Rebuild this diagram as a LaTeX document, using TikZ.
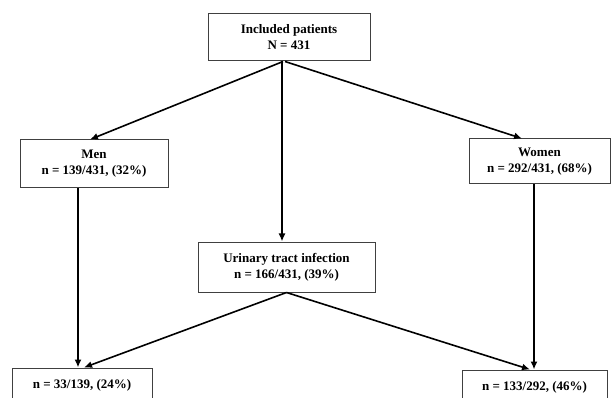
\documentclass[tikz,border=0pt]{standalone}
\usepackage{fontspec}
\setmainfont{Liberation Serif}
\usetikzlibrary{arrows.meta}
\begin{document}
\begin{tikzpicture}[x=1pt,y=-1pt,
  box/.style={draw=black!75, line width=1pt, fill=white, align=center, inner sep=0pt,
    font=\bfseries\fontsize{13}{16}\selectfont},
  arr/.style={line width=1.6pt, -{Latex[length=8pt,width=7pt]}}]
\useasboundingbox (0,0) rectangle (613,398);
\node[box, minimum width=162pt, minimum height=47pt] (top) at (289,37.5) {Included patients\\N = 431};
\node[box, minimum width=148pt, minimum height=48pt] (men) at (94,164) {Men\\n = 139/431, (32\%)};
\node[box, minimum width=141pt, minimum height=45pt] (women) at (539.5,161.5) {Women\\n = 292/431, (68\%)};
\node[box, minimum width=177pt, minimum height=50pt] (uti) at (286.5,267) {Urinary tract infection\\n = 166/431, (39\%)};
\node[box, minimum width=140pt, minimum height=34pt] (bl) at (82,385) {n = 33/139, (24\%)};
\node[box, minimum width=145pt, minimum height=34pt] (br) at (534.5,387) {n = 133/292, (46\%)};
\draw[arr] ([xshift=-6pt]top.south) -- ([xshift=-4pt]men.north);
\draw[arr] ([xshift=-4pt]top.south) -- ([xshift=-17.5pt]women.north);
\draw[arr] ([xshift=-7pt]top.south) -- ([xshift=-4.5pt]uti.north);
\draw[arr] ([xshift=-16pt]men.south) -- ([xshift=-4pt]bl.north);
\draw[arr] (uti.south) -- ([xshift=2pt]bl.north);
\draw[arr] (uti.south) -- ([xshift=-4.5pt]br.north);
\draw[arr] ([xshift=-5.5pt]women.south) -- ([xshift=-0.5pt]br.north);
\end{tikzpicture}
\end{document}
